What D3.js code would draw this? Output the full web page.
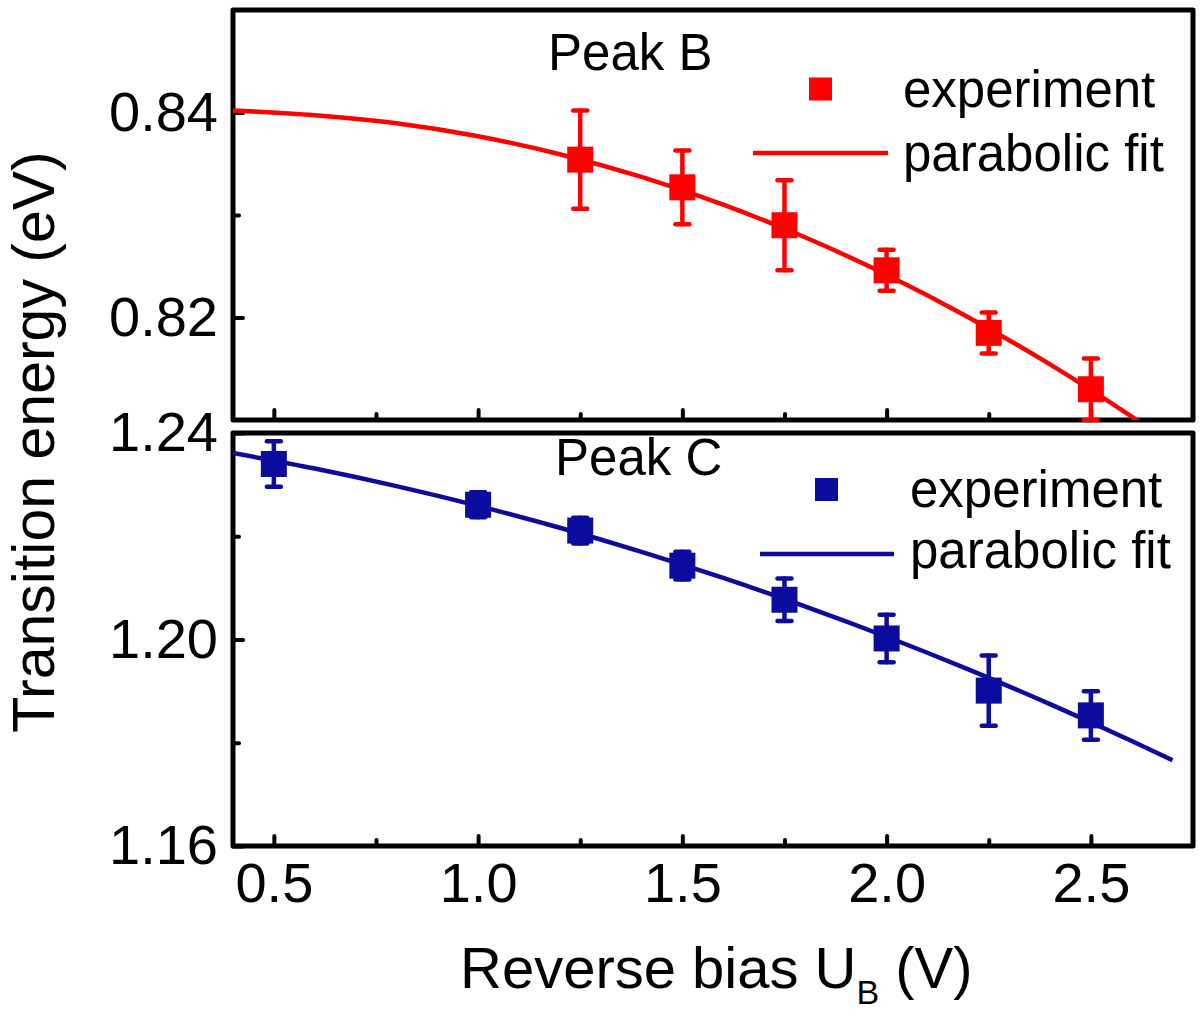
<!DOCTYPE html>
<html><head><meta charset="utf-8">
<script src="https://cdn.jsdelivr.net/npm/d3@7"></script>
<style>
html,body{margin:0;padding:0;background:#fff;}
text{font-family:"Liberation Sans",Arial,Helvetica,sans-serif;fill:#000;}
</style></head>
<body><svg id="chart" width="1200" height="1016"></svg>
<script>
// ---- data ----
const biasB = [1.25, 1.5, 1.75, 2.0, 2.25, 2.5];
const energyB = [0.8354, 0.8327, 0.8290, 0.8246, 0.8185, 0.8130];
const errB = [0.0048, 0.0036, 0.0044, 0.0020, 0.0020, 0.0030];

const biasC = [0.5, 1.0, 1.25, 1.5, 1.75, 2.0, 2.25, 2.5];
const energyC = [1.2340, 1.2261, 1.2211, 1.2143, 1.2077, 1.2002, 1.1901, 1.1853];
const errC = [0.0044, 0.0024, 0.0025, 0.0027, 0.0041, 0.0046, 0.0068, 0.0047];

const fitX = [0.4, 0.6, 0.8, 1.0, 1.2, 1.4, 1.6, 1.8, 2.0, 2.2, 2.4, 2.6, 2.7];
const fitB = [0.8402, 0.83973, 0.83895, 0.83768, 0.83593, 0.83371, 0.83101, 0.82783, 0.82417, 0.82003, 0.81542, 0.81032, 0.80760];
const fitC = [1.23611, 1.23311, 1.22970, 1.22588, 1.22164, 1.21699, 1.21192, 1.20643, 1.20053, 1.19421, 1.18748, 1.18034, 1.17661];

const xMajor = [0.5, 1.0, 1.5, 2.0, 2.5];
const xMinor = [0.75, 1.25, 1.75, 2.25];
const yBMajor = [0.82, 0.84];
const yBMinor = [0.83];
const yCMajor = [1.16, 1.20, 1.24];
const yCMinor = [1.18, 1.22];

const xTitle = "Reverse bias U";
const xTitleSub = "B";
const xTitleEnd = " (V)";
const yTitle = "Transition energy (eV)";

// ---- layout ----
const svg = d3.select("#chart");
const L = 233, R = 1193;
const x = d3.scaleLinear().domain([0.4, 2.75]).range([L, R]);
const yB = d3.scaleLinear().domain([0.81, 0.85]).range([420, 10]);
const yC = d3.scaleLinear().domain([1.16, 1.24]).range([846, 433]);

const RED = "#ff0000", BLUE = "#0b0b9e";

svg.append("defs").append("clipPath").attr("id", "clipB")
  .append("rect").attr("x", L).attr("y", 10).attr("width", R - L).attr("height", 410);
svg.append("defs").append("clipPath").attr("id", "clipC")
  .append("rect").attr("x", L).attr("y", 433).attr("width", R - L).attr("height", 413);

function panel(y, yMajor, yMinor, xLabels, fitY, bias, energy, err, color, clipId, peak, peakX, peakY, leg) {
  const g = svg.append("g");
  const [y0, y1] = y.range();
  const ax = g.append("g").attr("transform", `translate(0,${y0})`)
    .call(d3.axisBottom(x).tickValues(xMajor).tickSize(-10).tickPadding(16)
      .tickFormat(xLabels ? d3.format(".1f") : () => ""));
  const axm = g.append("g").attr("transform", `translate(0,${y0})`)
    .call(d3.axisBottom(x).tickValues(xMinor).tickSize(-6).tickFormat(() => ""));
  const ay = g.append("g").attr("transform", `translate(${L},0)`)
    .call(d3.axisLeft(y).tickValues(yMajor).tickSize(-10).tickPadding(15).tickFormat(d3.format(".2f")));
  const aym = g.append("g").attr("transform", `translate(${L},0)`)
    .call(d3.axisLeft(y).tickValues(yMinor).tickSize(-6).tickFormat(() => ""));
  [ax, axm, ay, aym].forEach(a => {
    a.select(".domain").remove();
    a.selectAll(".tick line").attr("stroke", "#000").attr("stroke-width", 4).attr("stroke-linecap", "round");
    a.selectAll(".tick text").attr("font-size", 56).attr("fill", "#000")
      .style("font-family", '"Liberation Sans",Arial,sans-serif');
  });
  g.append("rect").attr("x", L).attr("y", y1).attr("width", R - L).attr("height", y0 - y1)
    .attr("fill", "none").attr("stroke", "#000").attr("stroke-width", 5).attr("stroke-linejoin", "round");
  const line = d3.line().x((d, i) => x(fitX[i])).y(d => y(d)).curve(d3.curveMonotoneX);
  g.append("path").datum(fitY).attr("d", line).attr("fill", "none")
    .attr("stroke", color).attr("stroke-width", 4.5).attr("clip-path", `url(#${clipId})`);
  const eb = g.append("g").attr("stroke", color).attr("stroke-width", 4.5).attr("stroke-linecap", "round");
  bias.forEach((b, i) => {
    const cx = x(b), top = y(energy[i] + err[i]), bot = y(energy[i] - err[i]);
    eb.append("line").attr("x1", cx).attr("x2", cx).attr("y1", top).attr("y2", bot);
    eb.append("line").attr("x1", cx - 7).attr("x2", cx + 7).attr("y1", top).attr("y2", top);
    eb.append("line").attr("x1", cx - 7).attr("x2", cx + 7).attr("y1", bot).attr("y2", bot);
  });
  const s = 26;
  g.append("g").selectAll("rect").data(bias).join("rect")
    .attr("x", d => x(d) - s / 2).attr("y", (d, i) => y(energy[i]) - s / 2)
    .attr("width", s).attr("height", s).attr("fill", color);
  g.append("text").attr("x", peakX).attr("y", peakY).attr("font-size", 51).text(peak);
  g.append("rect").attr("x", leg.sx - 11.5).attr("y", leg.sy - 11.5).attr("width", 23).attr("height", 23).attr("fill", color);
  g.append("line").attr("x1", leg.l1).attr("x2", leg.l2).attr("y1", leg.ly).attr("y2", leg.ly)
    .attr("stroke", color).attr("stroke-width", 4.5);
  g.append("text").attr("x", leg.tx).attr("y", leg.t1).attr("font-size", 51).text("experiment");
  g.append("text").attr("x", leg.tx).attr("y", leg.t2).attr("font-size", 51).text("parabolic fit");
}

panel(yB, yBMajor, yBMinor, false, fitB, biasB, energyB, errB, RED, "clipB", "Peak B", 548, 70,
  {sx: 820.5, sy: 89, l1: 753, l2: 888, ly: 153, tx: 903, t1: 107, t2: 171});
panel(yC, yCMajor, yCMinor, true, fitC, biasC, energyC, errC, BLUE, "clipC", "Peak C", 555, 475,
  {sx: 826.5, sy: 489.5, l1: 760, l2: 894, ly: 554, tx: 910, t1: 507, t2: 568});

const xt = svg.append("text").attr("x", 460).attr("y", 988).attr("font-size", 58);
xt.append("tspan").text(xTitle);
xt.append("tspan").attr("font-size", 34).attr("dy", 16).text(xTitleSub);
xt.append("tspan").attr("dy", -16).text(xTitleEnd);

svg.append("text").attr("transform", "translate(54,442) rotate(-90)")
  .attr("text-anchor", "middle").attr("font-size", 59).text(yTitle);
</script></body></html>
